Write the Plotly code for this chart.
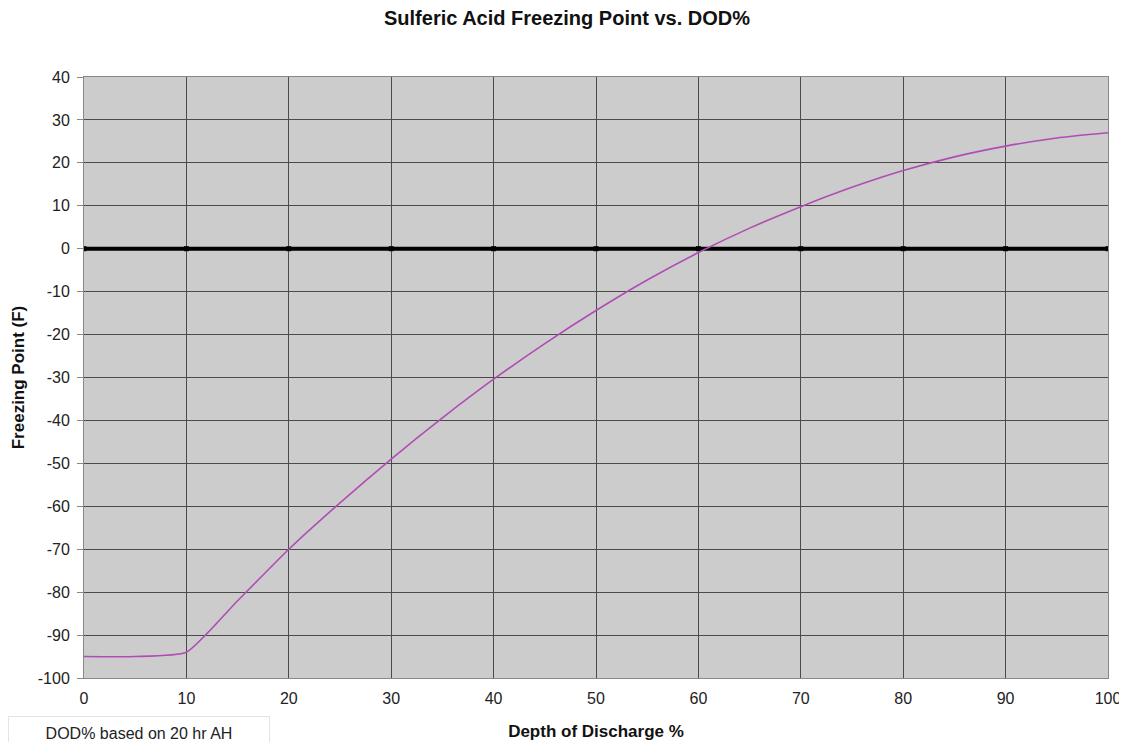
import plotly.graph_objects as go

dod = [0, 5, 10, 15, 20, 25, 30, 35, 40, 45, 50, 55, 60, 65, 70, 75, 80, 85, 90, 95, 100]
freeze_f = [-95, -95, -94, -82, -70, -59.2, -49, -39.4, -30.4, -22.1, -14.4, -7.3, -0.9,
            4.8, 9.8, 14.3, 18.2, 21.4, 23.9, 25.8, 27.0]

zero_x = [0, 10, 20, 30, 40, 50, 60, 70, 80, 90, 100]
zero_y = [0, 0, 0, 0, 0, 0, 0, 0, 0, 0, 0]

x_ticks = [0, 10, 20, 30, 40, 50, 60, 70, 80, 90, 100]
y_ticks = [40, 30, 20, 10, 0, -10, -20, -30, -40, -50, -60, -70, -80, -90, -100]
y_tick_text = ["40", "30", "20", "10", "0", "-10", "-20", "-30", "-40", "-50",
               "-60", "-70", "-80", "-90", "-100"]

font_family = "Liberation Sans, Arial, sans-serif"

# page body has an 8px default margin; compensate so the figure fills the window
FIG_W, FIG_H = 1119, 734
ML, MR, MT, MB = 76, 19, 69, 64
PLOT_W = FIG_W - ML - MR
PLOT_H = FIG_H - MT - MB

fig = go.Figure()
fig.add_trace(go.Scatter(
    x=zero_x, y=zero_y, mode="lines+markers",
    line=dict(color="black", width=4),
    marker=dict(symbol="square", size=5, color="black"),
    showlegend=False, hoverinfo="skip"))
fig.add_trace(go.Scatter(
    x=dod, y=freeze_f, mode="lines",
    line=dict(color="#b04cb4", width=1.6, shape="spline", smoothing=0.5),
    showlegend=False))

fig.update_layout(
    width=FIG_W, height=FIG_H,
    margin=dict(l=ML, r=MR, t=MT, b=MB),
    paper_bgcolor="white",
    plot_bgcolor="#cccccc",
    font=dict(family=font_family, size=16, color="#222222"),
    title=dict(text="<b>Sulferic Acid Freezing Point vs. DOD%</b>",
               x=(567 - 8) / FIG_W, xanchor="center",
               y=1 - (18 - 8) / FIG_H, yanchor="middle",
               font=dict(size=20, color="#111111")),
    xaxis=dict(range=[0, 100], tickvals=x_ticks, showgrid=True,
               gridcolor="#4a4a4a", gridwidth=1, zeroline=False,
               showline=True, linecolor="#888888", mirror=True,
               ticks="", ticklabelstandoff=6, automargin=False,
               tickfont=dict(size=16),
               title=dict(text="<b>Depth of Discharge %</b>", standoff=18,
                          font=dict(size=17, color="#111111"))),
    yaxis=dict(range=[-100, 40], tickvals=y_ticks, ticktext=y_tick_text,
               showgrid=True,
               gridcolor="#4a4a4a", gridwidth=1, zeroline=False,
               showline=True, linecolor="#888888", mirror=True,
               ticks="outside", ticklen=6, tickcolor="#888888",
               ticklabelstandoff=4, automargin=False,
               tickfont=dict(size=16),
               title=dict(text="<b>Freezing Point (F)</b>", standoff=8,
                          font=dict(size=17, color="#111111"))),
)

fig.add_annotation(
    text="DOD% based on 20 hr AH", xref="paper", yref="paper",
    x=(0 - ML) / PLOT_W, y=(678 - 733) / PLOT_H, xanchor="left", yanchor="middle",
    showarrow=False, align="center",
    font=dict(size=16, color="#222222"),
    bgcolor="white", bordercolor="#e4e4e4", borderwidth=1,
    borderpad=8, width=244)

fig.write_html("out.html")
